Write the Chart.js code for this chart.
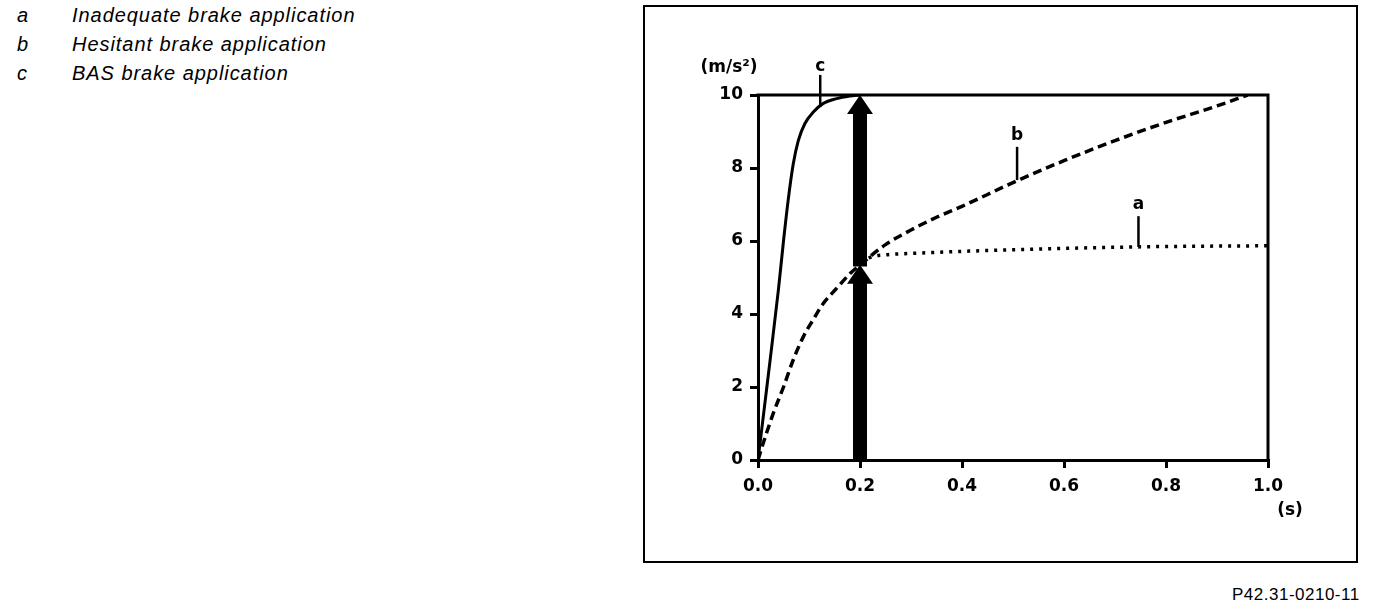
<!DOCTYPE html>
<html><head><meta charset="utf-8">
<script src="https://cdn.jsdelivr.net/npm/chart.js@4/dist/chart.umd.min.js"></script>
<style>
html,body{margin:0;padding:0;background:#fff;width:1392px;height:610px;overflow:hidden;position:relative;font-family:"Liberation Sans",Arial,sans-serif}
.leg{position:absolute;font-style:italic;font-size:20px;letter-spacing:0.95px;color:#000;line-height:22px;white-space:nowrap}
#frame{position:absolute;left:643px;top:5px;width:711px;height:554px;border:2px solid #000}
#wrap{position:absolute;left:645px;top:7px;width:709px;height:552px}
#code{position:absolute;left:1232px;top:585px;font-size:17px;letter-spacing:0.5px;color:#000;white-space:nowrap}
</style>
</head><body>
<div class="leg" style="left:17px;top:4px">a</div><div class="leg" style="left:72px;top:4px">Inadequate brake application</div>
<div class="leg" style="left:17px;top:33px">b</div><div class="leg" style="left:72px;top:33px">Hesitant brake application</div>
<div class="leg" style="left:17px;top:62px">c</div><div class="leg" style="left:72px;top:62px">BAS brake application</div>
<div id="frame"></div>
<div id="wrap"><canvas id="cv" width="709" height="552"></canvas></div>
<div id="code">P42.31-0210-11</div>
<script>
// ---- data (time in s, deceleration in m/s²) ----
const timeC  = [0, 0.02, 0.04, 0.05, 0.059, 0.069, 0.079, 0.092, 0.109, 0.128, 0.154, 0.18, 0.2];
const accelC = [0, 2.3, 4.66, 6.0, 7.1, 8.1, 8.75, 9.22, 9.54, 9.77, 9.9, 9.97, 10];
const timeB  = [0, 0.01, 0.03, 0.05, 0.069, 0.089, 0.108, 0.128, 0.154, 0.18, 0.203, 0.25, 0.3, 0.35, 0.4, 0.5, 0.6, 0.7, 0.8, 0.9, 0.96];
const accelB = [0, 0.45, 1.28, 2.0, 2.74, 3.38, 3.84, 4.29, 4.7, 5.1, 5.38, 5.9, 6.3, 6.65, 6.95, 7.6, 8.2, 8.75, 9.25, 9.7, 10];
const timeA  = [0.203, 0.22, 0.25, 0.3, 0.35, 0.5, 0.75, 1.0];
const accelA = [5.38, 5.55, 5.62, 5.66, 5.69, 5.76, 5.84, 5.87];
const xTicks = [0, 0.2, 0.4, 0.6, 0.8, 1.0];
const yTicks = [0, 2, 4, 6, 8, 10];
const arrowTime = [0.2, 0.2];
const arrowFrom = [0, 5.3];
const arrowTo   = [5.35, 10];
const curveLabels = ['c', 'b', 'a'];
const labelTime   = [0.122, 0.508, 0.746];
const labelAccel  = [10.79, 8.88, 6.99];
const leaderTop   = [10.55, 8.58, 6.68];
const leaderBot   = [9.67, 7.67, 5.84];
const yUnit = '(m/s²)';
const xUnit = '(s)';

const pts = (xs, ys) => xs.map((v, i) => ({x: v, y: ys[i]}));
const FONT = '"DejaVu Sans", "Liberation Sans", Arial, sans-serif';

const annot = {
  id: 'annot',
  afterDatasetsDraw(chart) {
    const {ctx, chartArea: ca, scales: {x, y}} = chart;
    ctx.save();
    ctx.strokeStyle = '#000'; ctx.fillStyle = '#000';
    ctx.lineWidth = 3; ctx.lineCap = 'square';
    ctx.beginPath();
    ctx.moveTo(ca.left, ca.top); ctx.lineTo(ca.right, ca.top); ctx.lineTo(ca.right, ca.bottom);
    ctx.stroke();
    // arrows
    arrowTime.forEach((t, i) => {
      const px = x.getPixelForValue(t);
      const y0 = y.getPixelForValue(arrowFrom[i]);
      const y1 = y.getPixelForValue(arrowTo[i]);
      const sw = 7, hw = 13, hl = 19;
      ctx.beginPath();
      ctx.moveTo(px - sw, y0); ctx.lineTo(px - sw, y1 + hl); ctx.lineTo(px - hw, y1 + hl);
      ctx.lineTo(px, y1); ctx.lineTo(px + hw, y1 + hl); ctx.lineTo(px + sw, y1 + hl);
      ctx.lineTo(px + sw, y0); ctx.closePath(); ctx.fill();
    });
    // curve labels with leaders
    ctx.font = 'bold 17px ' + FONT;
    ctx.textAlign = 'center'; ctx.textBaseline = 'middle';
    ctx.lineWidth = 2.5; ctx.lineCap = 'butt';
    curveLabels.forEach((s, i) => {
      const px = x.getPixelForValue(labelTime[i]);
      ctx.fillText(s, px, y.getPixelForValue(labelAccel[i]));
      ctx.beginPath();
      ctx.moveTo(px, y.getPixelForValue(leaderTop[i]));
      ctx.lineTo(px, y.getPixelForValue(leaderBot[i]));
      ctx.stroke();
    });
    // units
    ctx.fillText(yUnit, ca.left - 29, y.getPixelForValue(10) - 27);
    ctx.fillText(xUnit, ca.right + 22, ca.bottom + 51);
    ctx.restore();
  }
};

const tickFont = {family: FONT, weight: 'bold', size: 17};
new Chart(document.getElementById('cv'), {
  type: 'line',
  data: {
    datasets: [
      {label: 'c', data: pts(timeC, accelC), borderColor: '#000', borderWidth: 3, pointRadius: 0, cubicInterpolationMode: 'monotone', fill: false},
      {label: 'b', data: pts(timeB, accelB), borderColor: '#000', borderWidth: 3.5, borderDash: [9, 5], pointRadius: 0, cubicInterpolationMode: 'monotone', fill: false},
      {label: 'a', data: pts(timeA, accelA), borderColor: '#000', borderWidth: 3.5, borderDash: [3, 6], pointRadius: 0, cubicInterpolationMode: 'monotone', fill: false}
    ]
  },
  options: {
    responsive: false, animation: false, devicePixelRatio: 1,
    layout: {padding: {left: 0, top: 88, right: 86, bottom: 59}},
    plugins: {legend: {display: false}, tooltip: {enabled: false}},
    scales: {
      x: {
        type: 'linear', min: 0, max: 1,
        afterBuildTicks: s => { s.ticks = xTicks.map(v => ({value: v})); },
        afterFit: s => { s.height = 40; },
        ticks: {color: '#000', font: tickFont, padding: 8, maxRotation: 0, callback: v => Number(v).toFixed(1)},
        grid: {drawOnChartArea: false, drawTicks: true, tickLength: 8, lineWidth: 3, color: '#000'},
        border: {display: true, width: 3, color: '#000'}
      },
      y: {
        type: 'linear', min: 0, max: 10,
        afterBuildTicks: s => { s.ticks = yTicks.map(v => ({value: v})); },
        afterFit: s => { s.width = 113; },
        ticks: {color: '#000', font: tickFont, padding: 7, callback: v => String(v)},
        grid: {drawOnChartArea: false, drawTicks: true, tickLength: 8, lineWidth: 3, color: '#000'},
        border: {display: true, width: 3, color: '#000'}
      }
    }
  },
  plugins: [annot]
});
</script>
</body></html>
